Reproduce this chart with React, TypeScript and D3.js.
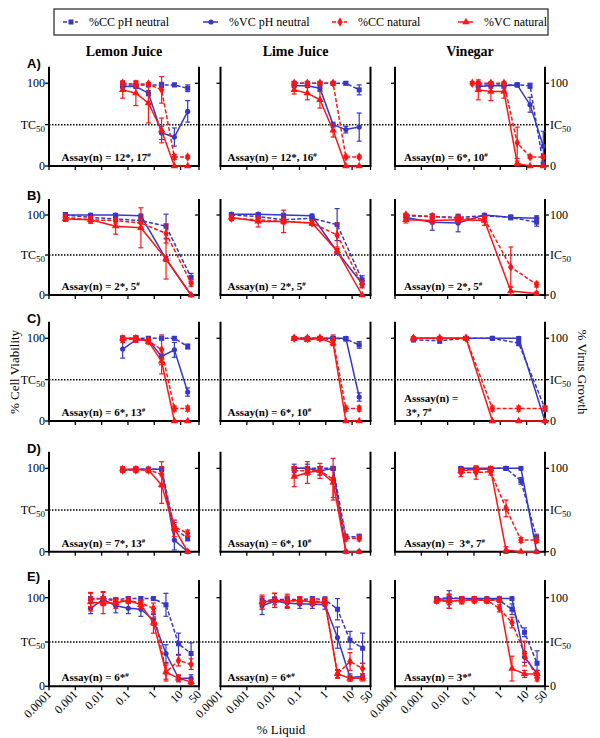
import React from "react";
import * as d3 from "d3";

const BLUE = "#3636c8";
const RED = "#ff1414";

const columns = ["Lemon Juice", "Lime Juice", "Vinegar"];
const rowLabels = ["A)", "B)", "C)", "D)", "E)"];
const seriesNames = ["%CC pH neutral", "%VC pH neutral", "%CC natural", "%VC natural"];
const xTicks = [0.0001, 0.001, 0.01, 0.1, 1, 10, 50];
const xTickLabels = ["0.0001", "0.001", "0.01", "0.1", "1", "10", "50"];

// order of series inside each panel: CC pH neutral, VC pH neutral, CC natural, VC natural
const xThird = [0.063, 0.2, 0.6, 1.9, 5.8, 18.6];
const xNine = [0.0038, 0.0114, 0.0343, 0.103, 0.309, 0.926, 2.78, 8.33, 25];

// row A
const lemonA_y = [[98, 98, 98, 98, 98, 94], [96, 96, 88, 40, 35, 66], [100, 99, 99, 92, 11, 11], [92, 88, 76, 43, 0, 0]];
const lemonA_e = [[3, 2, 2, 3, 2, 4], [2, 2, 3, 8, 11, 13], [3, 3, 2, 16, 3, 2], [10, 15, 24, 15, 0, 0]];
const limeA_y = [[100, 100, 100, 100, 100, 92], [97, 97, 94, 50, 44, 47], [100, 100, 100, 100, 11, 11], [92, 88, 80, 43, 0, 0]];
const limeA_e = [[2, 2, 2, 2, 2, 6], [2, 2, 3, 3, 4, 17], [2, 2, 2, 2, 2, 2], [5, 8, 10, 8, 0, 0]];
const vinegarA_x = [0.086, 0.146, 0.44, 1.38, 4.4, 13.5, 43];
const vinegarA_y = [[null, 98, 98, 98, 98, 97, 2], [null, 96, 97, 97, 98, 74, 24], [100, 100, 100, 100, 28, 11, 11], [null, 92, 90, 90, 3, 0, 0]];
const vinegarA_e = [[0, 2, 2, 2, 2, 3, 2], [0, 3, 3, 3, 2, 9, 18], [2, 2, 2, 2, 19, 2, 2], [0, 12, 11, 8, 3, 0, 0]];

// row B
const lemonB_x = [0.00042, 0.0038, 0.034, 0.31, 2.8, 25];
const lemonB_y = [[100, 97, 95, 93, 86, 22], [100, 100, 100, 99, 45, 0], [97, 94, 93, 90, 77, 15], [95, 94, 86, 84, 45, 0]];
const lemonB_e = [[3, 3, 3, 3, 15, 5], [2, 2, 2, 2, 3, 0], [4, 4, 3, 5, 12, 4], [3, 4, 10, 25, 25, 0]];
const limeB_x = [0.00026, 0.0027, 0.025, 0.3, 2.7, 24];
const limeB_y = [[100, 98, 94, 96, 88, 19], [101, 101, 100, 99, 54, 14], [96, 94, 92, 90, 75, 13], [97, 92, 92, 90, 55, 0]];
const limeB_e = [[2, 2, 3, 2, 20, 5], [2, 2, 2, 2, 3, 4], [3, 3, 3, 3, 15, 4], [3, 7, 14, 3, 3, 0]];
const vinegarB_x = [0.00026, 0.0026, 0.025, 0.25, 2.5, 24];
const vinegarB_y = [[99, 98, 97, 99, 97, 91], [97, 91, 90, 100, 97, 96], [100, 98, 96, 95, 35, 13], [94, 93, 94, 93, 5, 2]];
const vinegarB_e = [[2, 3, 3, 2, 3, 5], [3, 10, 11, 2, 2, 3], [2, 3, 3, 3, 25, 3], [4, 4, 4, 6, 5, 2]];

// row C
const lemonC_y = [[100, 100, 100, 100, 100, 90], [87, 98, 98, 78, 86, 35], [98, 99, 97, 86, 15, 15], [100, 100, 96, 72, 0, 0]];
const lemonC_e = [[2, 2, 2, 2, 2, 3], [11, 3, 3, 3, 9, 5], [3, 4, 3, 18, 3, 3], [3, 3, 3, 15, 0, 0]];
const limeC_y = [[100, 100, 100, 100, 99, 92], [100, 100, 100, 100, 100, 29], [100, 100, 100, 98, 15, 15], [100, 98, 100, 94, 0, 0]];
const limeC_e = [[2, 2, 2, 2, 2, 4], [2, 2, 2, 2, 2, 5], [2, 2, 2, 6, 3, 3], [2, 2, 2, 3, 0, 0]];
const vinegarC_x = [0.0005, 0.005, 0.05, 0.5, 5, 50];
const vinegarC_y = [[98, 97, 100, 100, 94, 15], [100, 100, 100, 100, 100, 0], [100, 100, 100, 15, 15, 15], [100, 100, 100, 0, 0, 0]];
const vinegarC_e = [[2, 3, 2, 2, 3, 3], [2, 2, 2, 2, 2, 0], [2, 2, 2, 3, 3, 3], [0, 0, 0, 0, 0, 0]];

// row D
const lemonD_y = [[98, 99, 99, 99, 28, 16], [98, 99, 99, 99, 14, 0], [98, 98, 98, 93, 30, 22], [99, 99, 98, 80, 28, 0]];
const lemonD_e = [[2, 2, 2, 2, 4, 3], [2, 2, 2, 2, 12, 0], [3, 3, 3, 15, 5, 4], [3, 3, 3, 22, 10, 0]];
const limeD_y = [[100, 100, 100, 100, 18, 18], [100, 100, 97, 100, 0, 0], [97, 97, 97, 87, 16, 16], [90, 95, 97, 83, 0, 0]];
const limeD_e = [[2, 2, 2, 2, 3, 3], [5, 5, 5, 2, 0, 0], [5, 5, 5, 25, 3, 3], [12, 13, 9, 18, 0, 0]];
const vinegarD_x = [0.032, 0.12, 0.43, 1.65, 6.1, 24];
const vinegarD_y = [[99, 99, 100, 100, 85, 17], [100, 100, 100, 100, 100, 0], [95, 95, 96, 52, 14, 14], [97, 99, 99, 2, 0, 0]];
const vinegarD_e = [[2, 2, 2, 2, 4, 4], [2, 2, 2, 2, 2, 0], [5, 8, 4, 10, 3, 3], [3, 3, 3, 4, 0, 0]];

// row E
const lemonE_y = [[99, 99, 98, 99, 99, 99, 92, 48, 37], [88, 98, 91, 88, 87, 75, 37, 9, 9], [98, 99, 96, 97, 94, 88, 16, 29, 25], [95, 94, 94, 97, 92, 72, 16, 9, 5]];
const lemonE_e = [[2, 2, 2, 2, 2, 2, 13, 12, 12], [6, 3, 8, 6, 8, 6, 10, 3, 4], [8, 8, 4, 3, 4, 6, 8, 6, 6], [10, 12, 6, 3, 4, 12, 10, 4, 3]];
const limeE_y = [[96, 98, 98, 98, 99, 98, 87, 52, 43], [91, 96, 94, 93, 93, 92, 55, 10, 11], [94, 97, 96, 97, 96, 96, 14, 28, 20], [95, 97, 96, 97, 95, 95, 14, 9, 9]];
const limeE_e = [[3, 3, 3, 3, 2, 3, 12, 10, 17], [10, 4, 5, 5, 5, 5, 12, 4, 3], [7, 8, 8, 4, 4, 4, 5, 10, 6], [8, 8, 6, 4, 4, 4, 4, 3, 3]];
const vinegarE_y = [[99, 100, 99, 98, 98, 97, 87, 61, 26], [98, 99, 99, 99, 99, 99, 99, 33, 14], [97, 96, 97, 97, 97, 88, 72, 37, 9], [97, 96, 97, 98, 97, 98, 20, 14, 14]];
const vinegarE_e = [[2, 8, 2, 2, 2, 2, 6, 5, 14], [2, 2, 2, 2, 2, 2, 2, 6, 4], [3, 8, 3, 3, 3, 4, 6, 14, 3], [3, 8, 4, 3, 3, 3, 14, 4, 4]];

const assayText = [
  ["Assay(n) = 12*, 17#", "Assay(n) = 12*, 16#", "Assay(n) = 6*, 10#"],
  ["Assay(n) = 2*, 5#", "Assay(n) = 2*, 5#", "Assay(n) = 2*, 5#"],
  ["Assay(n) = 6*, 13#", "Assay(n) = 6*, 10#", "Asssay(n) =|3*, 7#"],
  ["Assay(n) = 7*, 13#", "Assay(n) = 6*, 10#", "Assay(n) =  3*, 7#"],
  ["Assay(n) = 6*#", "Assay(n) = 6*#", "Assay(n) = 3*#"],
];

const panels = [
  [[xThird, lemonA_y, lemonA_e], [xThird, limeA_y, limeA_e], [vinegarA_x, vinegarA_y, vinegarA_e]],
  [[lemonB_x, lemonB_y, lemonB_e], [limeB_x, limeB_y, limeB_e], [vinegarB_x, vinegarB_y, vinegarB_e]],
  [[xThird, lemonC_y, lemonC_e], [xThird, limeC_y, limeC_e], [vinegarC_x, vinegarC_y, vinegarC_e]],
  [[xThird, lemonD_y, lemonD_e], [xThird, limeD_y, limeD_e], [vinegarD_x, vinegarD_y, vinegarD_e]],
  [[xNine, lemonE_y, lemonE_e], [xNine, limeE_y, limeE_e], [xNine, vinegarE_y, vinegarE_e]],
];

const SERIF = "Liberation Serif, DejaVu Serif, serif";
const SANS = "Liberation Sans, Arial, sans-serif";
const W = 150;
const colX = [49, 220.5, 395];
const rowTop = [66.7, 199, 321.7, 451.7, 580];
const rowBottom = [166, 295, 421, 551.7, 686.3];
const colors = [BLUE, BLUE, RED, RED];
const dashed = [true, false, true, false];

function Marker({ kind, x, y, color }) {
  if (kind === 0) return <rect x={x - 2.5} y={y - 2.5} width={5} height={5} fill={color} />;
  if (kind === 1) return <circle cx={x} cy={y} r={2.6} fill={color} />;
  const sym = kind === 2 ? d3.symbolDiamond : d3.symbolTriangle;
  const d = d3.symbol().type(sym).size(kind === 2 ? 26 : 24)();
  return <path d={d} transform={`translate(${x},${y})`} fill={color} />;
}

function AssayLabel({ text, x, y }) {
  const lines = text.split("|");
  return (
    <g style={{ fontFamily: SERIF }} fontWeight="bold" fontSize={11} fill="#000">
      {lines.map((ln, i) => {
        const parts = ln.split("#");
        const ly = lines.length > 1 ? y - 14 * (lines.length - 1 - i) : y;
        return (
          <text key={i} x={x + (i > 0 ? 2 : 0)} y={ly} style={{ whiteSpace: "pre" }}>
            {parts[0]}
            {parts.length > 1 && (
              <tspan dy={-4} fontSize={7}>#</tspan>
            )}
          </text>
        );
      })}
    </g>
  );
}

function Panel({ r, c }) {
  const [xs, ys, es] = panels[r][c];
  const x0 = colX[c];
  const x = d3.scaleLog().domain([0.0001, 50]).range([x0, x0 + W]);
  const y = d3.scaleLinear().domain([0, 120]).range([rowBottom[r], rowTop[r]]);
  const top = rowTop[r];
  const bot = rowBottom[r];
  const line = d3
    .line()
    .defined((d) => d[1] != null)
    .x((d) => x(d[0]))
    .y((d) => y(d[1]));

  return (
    <g>
      {/* frame */}
      <line x1={x0} x2={x0} y1={top} y2={bot} stroke="#000" strokeWidth={2} />
      <line x1={x0 + W} x2={x0 + W} y1={top} y2={bot} stroke="#000" strokeWidth={2} />
      <line x1={x0 - 1} x2={x0 + W + 1} y1={bot} y2={bot} stroke="#000" strokeWidth={2} />
      {xTicks.map((t) => (
        <line key={t} x1={x(t)} x2={x(t)} y1={bot} y2={bot + 4} stroke="#000" strokeWidth={1.3} />
      ))}
      {c === 0 &&
        [100, 50, 0].map((t) => (
          <line key={t} x1={x0 - 4} x2={x0} y1={y(t)} y2={y(t)} stroke="#000" strokeWidth={1.3} />
        ))}
      {c > 0 && <line x1={x0 - 4} x2={x0} y1={y(100)} y2={y(100)} stroke="#000" strokeWidth={1.3} />}
      {c < 2 && <line x1={x0 + W - 4} x2={x0 + W} y1={y(100)} y2={y(100)} stroke="#000" strokeWidth={1.3} />}
      {c === 2 &&
        [100, 50, 0].map((t) => (
          <line key={t} x1={x0 + W} x2={x0 + W + 4} y1={y(t)} y2={y(t)} stroke="#000" strokeWidth={1.3} />
        ))}

      {/* series */}
      {ys.map((vals, s) => {
        const pts = xs.map((xv, i) => [xv, vals[i]]);
        return (
          <g key={s}>
            <path
              d={line(pts)}
              fill="none"
              stroke={colors[s]}
              strokeWidth={1.5}
              strokeDasharray={dashed[s] ? "4,2" : null}
            />
            {pts.map((p, i) =>
              p[1] == null || !es[s][i] ? null : (
                <g key={"e" + i} stroke={colors[s]} strokeWidth={1.2}>
                  <line x1={x(p[0])} x2={x(p[0])} y1={y(p[1] - es[s][i])} y2={y(p[1] + es[s][i])} />
                  <line x1={x(p[0]) - 2.5} x2={x(p[0]) + 2.5} y1={y(p[1] - es[s][i])} y2={y(p[1] - es[s][i])} />
                  <line x1={x(p[0]) - 2.5} x2={x(p[0]) + 2.5} y1={y(p[1] + es[s][i])} y2={y(p[1] + es[s][i])} />
                </g>
              )
            )}
            {pts.map((p, i) =>
              p[1] == null ? null : <Marker key={"m" + i} kind={s} x={x(p[0])} y={y(p[1])} color={colors[s]} />
            )}
          </g>
        );
      })}

      <AssayLabel text={assayText[r][c]} x={x0 + [12.5, 7, 9][c]} y={bot - 5} />

      {r === 4 &&
        xTicks.map((t, i) => (
          <text
            key={t}
            transform={`translate(${x(t) + 3},${bot + 9}) rotate(-45)`}
            textAnchor="end"
            style={{ fontFamily: SERIF }}
            fontSize={12}
          >
            {xTickLabels[i]}
          </text>
        ))}
    </g>
  );
}

function Legend() {
  const lx = [63, 203, 332, 458];
  const ly = 22;
  return (
    <g>
      <rect x={54} y={9} width={494} height={26} fill="#fff" stroke="#333" strokeWidth={1.3} />
      {seriesNames.map((n, i) => (
        <g key={n}>
          <line
            x1={lx[i]}
            x2={lx[i] + 15}
            y1={ly}
            y2={ly}
            stroke={colors[i]}
            strokeWidth={1.5}
            strokeDasharray={dashed[i] ? "4,2" : null}
          />
          <Marker kind={i} x={lx[i] + 8} y={ly} color={colors[i]} />
          <text x={lx[i] + 26} y={ly + 4} style={{ fontFamily: SERIF }} fontSize={12}>
            {n}
          </text>
        </g>
      ))}
    </g>
  );
}

export default function App() {
  return (
    <svg width={600} height={738} style={{ position: "absolute", left: 0, top: 0, background: "#fff" }}>
      <rect width={600} height={738} fill="#fff" />
      <Legend />
      {columns.map((t, c) => (
        <text key={t} x={colX[c] + W / 2} y={56} textAnchor="middle" style={{ fontFamily: SERIF }} fontWeight="bold" fontSize={14}>
          {t}
        </text>
      ))}
      {rowLabels.map((lab, r) => {
        const y = d3.scaleLinear().domain([0, 120]).range([rowBottom[r], rowTop[r]]);
        return (
          <g key={lab}>
            <text x={27} y={rowTop[r] + 1} style={{ fontFamily: SANS }} fontWeight="bold" fontSize={13}>
              {lab}
            </text>
            <line
              x1={colX[0]}
              x2={colX[2] + W}
              y1={y(50)}
              y2={y(50)}
              stroke="#000"
              strokeWidth={1.5}
              strokeDasharray="1.5,1.5"
            />
            <g style={{ fontFamily: SERIF }} fontSize={12}>
              <text x={45} y={y(100) + 4} textAnchor="end">100</text>
              <text x={45} y={y(50) + 4} textAnchor="end">
                TC<tspan dy={3} fontSize={9}>50</tspan>
              </text>
              <text x={45} y={y(0) + 4} textAnchor="end">0</text>
              <text x={colX[2] + W + 5} y={y(100) + 4}>100</text>
              <text x={colX[2] + W + 5} y={y(50) + 4}>
                IC<tspan dy={3} fontSize={9}>50</tspan>
              </text>
              <text x={colX[2] + W + 5} y={y(0) + 4}>0</text>
            </g>
            {columns.map((_, c) => (
              <Panel key={c} r={r} c={c} />
            ))}
          </g>
        );
      })}
      <text transform="translate(19,372) rotate(-90)" textAnchor="middle" style={{ fontFamily: SERIF }} fontSize={13}>
        % Cell Viability
      </text>
      <text transform="translate(578,372) rotate(90)" textAnchor="middle" style={{ fontFamily: SERIF }} fontSize={13}>
        % Virus Growth
      </text>
      <text x={281} y={734} textAnchor="middle" style={{ fontFamily: SERIF }} fontSize={13}>
        % Liquid
      </text>
    </svg>
  );
}
